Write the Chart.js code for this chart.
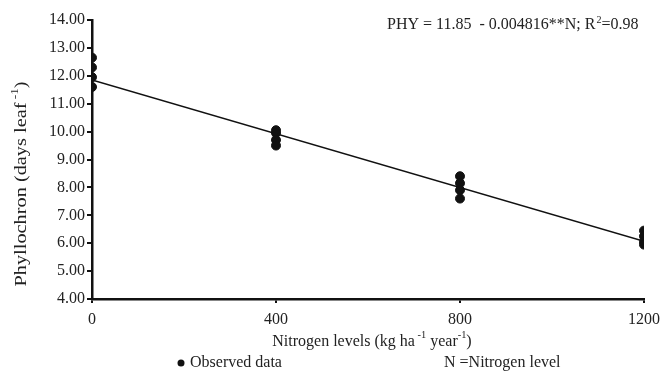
<!DOCTYPE html>
<html>
<head>
<meta charset="utf-8">
<script src="https://cdn.jsdelivr.net/npm/chart.js@4.4.0/dist/chart.umd.min.js"></script>
<style>
  html, body { margin: 0; padding: 0; background: #fff; }
  #wrap { width: 670px; height: 371px; position: relative; }
</style>
</head>
<body>
<div id="wrap"><canvas id="phyChart" width="670" height="371"></canvas></div>
<script>
// nitrogen doses (kg/ha/year) and observed phyllochron per dose
const nitrogenLevels = [0, 400, 800, 1200];
const phyN0 = [12.65, 12.3, 11.95, 11.6];
const phyN400 = [10.05, 9.95, 9.7, 9.5];
const phyN800 = [8.4, 8.15, 7.9, 7.6];
const phyN1200 = [6.45, 6.25, 6.05, 5.95];
const yTicks = [4, 5, 6, 7, 8, 9, 10, 11, 12, 13, 14];

// fitted equation PHY = 11.85 - 0.004816 N
const intercept = 11.85;
const slope = -0.004816;

const serif = "'Liberation Serif', 'Times New Roman', serif";

const observed = [];
[phyN0, phyN400, phyN800, phyN1200].forEach((vals, i) => {
  vals.forEach(v => observed.push({ x: nitrogenLevels[i], y: v }));
});
const fitted = [0, 1200].map(n => ({ x: n, y: intercept + slope * n }));

// width of text with superscript pieces: parts = [[text, sup], ...]
function richWidth(ctx, parts, size) {
  let total = 0;
  parts.forEach(([t, sup]) => {
    ctx.font = (sup ? size * 0.65 : size) + 'px ' + serif;
    total += ctx.measureText(t).width;
  });
  return total;
}

function drawRich(ctx, parts, x, y, size) {
  let cx = x - richWidth(ctx, parts, size) / 2;
  parts.forEach(([t, sup]) => {
    ctx.font = (sup ? size * 0.65 : size) + 'px ' + serif;
    ctx.fillText(t, cx, sup ? y - size * 0.4 : y);
    cx += ctx.measureText(t).width;
  });
}

const labelsPlugin = {
  id: 'labels',
  afterDraw(chart) {
    const ctx = chart.ctx;
    ctx.save();
    ctx.fillStyle = '#222';
    ctx.textBaseline = 'middle';
    ctx.textAlign = 'left';

    // equation
    ctx.font = '16px ' + serif;
    const eq1 = 'PHY = 11.85  - 0.004816**N; R';
    ctx.fillText(eq1, 387, 25);
    const w = ctx.measureText(eq1).width;
    ctx.font = '10px ' + serif;
    ctx.fillText('2', 387 + w + 1, 20);
    const w2 = ctx.measureText('2').width;
    ctx.font = '16px ' + serif;
    ctx.fillText('=0.98', 387 + w + w2 + 1, 25);

    // x axis title
    drawRich(ctx, [['Nitrogen levels (kg ha', false], [' -1', true], [' year', false], ['-1', true], [')', false]], 372, 342, 16);

    // y axis title, stretched along its length
    const yParts = [['Phyllochron (days leaf', false], [' -1', true], [')', false]];
    const stretch = 205 / richWidth(ctx, yParts, 16);
    ctx.save();
    ctx.translate(22, 184);
    ctx.rotate(-Math.PI / 2);
    ctx.scale(stretch, 1);
    drawRich(ctx, yParts, 0, 0, 16);
    ctx.restore();

    // legend
    ctx.fillStyle = '#111';
    ctx.beginPath();
    ctx.arc(181, 363, 3.5, 0, Math.PI * 2);
    ctx.fill();
    ctx.fillStyle = '#222';
    ctx.font = '16px ' + serif;
    ctx.fillText('Observed data', 190, 363);
    ctx.fillText('N =Nitrogen level', 444, 363);
    ctx.restore();
  }
};

new Chart(document.getElementById('phyChart'), {
  type: 'scatter',
  data: {
    datasets: [
      {
        label: 'Observed data',
        data: observed,
        backgroundColor: '#111',
        borderColor: '#111',
        pointRadius: 4.5,
        pointHoverRadius: 4.5
      },
      {
        label: 'Fit',
        type: 'line',
        data: fitted,
        borderColor: '#111',
        borderWidth: 1.5,
        pointRadius: 0,
        fill: false
      }
    ]
  },
  options: {
    responsive: false,
    animation: false,
    devicePixelRatio: 1,
    layout: { padding: { top: 20, right: 26, left: 0, bottom: 0 } },
    plugins: { legend: { display: false }, tooltip: { enabled: false } },
    scales: {
      x: {
        type: 'linear',
        min: 0,
        max: 1200,
        afterBuildTicks: s => { s.ticks = nitrogenLevels.map(v => ({ value: v })); },
        afterFit: s => { s.height = 72; },
        border: { color: '#111', width: 2.5 },
        grid: { drawOnChartArea: false, color: '#111', lineWidth: 2, tickLength: 4 },
        ticks: { color: '#222', autoSkip: false, maxRotation: 0, font: { family: serif, size: 16 }, padding: 7, callback: v => String(v) }
      },
      y: {
        min: 4,
        max: 14,
        afterBuildTicks: s => { s.ticks = yTicks.map(v => ({ value: v })); },
        afterFit: s => { s.width = 92; },
        border: { color: '#111', width: 2.5 },
        grid: { drawOnChartArea: false, color: '#111', lineWidth: 2, tickLength: 5 },
        ticks: { color: '#222', autoSkip: false, font: { family: serif, size: 16 }, padding: 2, callback: v => v.toFixed(2) }
      }
    }
  },
  plugins: [labelsPlugin]
});
</script>
</body>
</html>
